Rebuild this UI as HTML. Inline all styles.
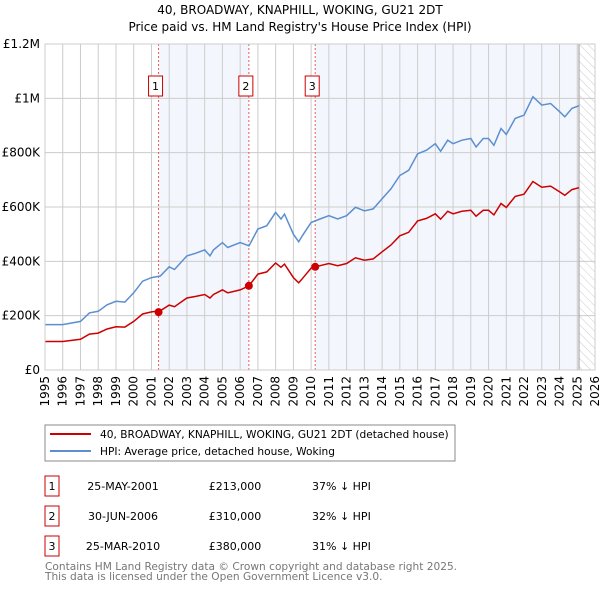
<!DOCTYPE html>
<html><head><meta charset="utf-8"><style>
body{margin:0;background:#fff;}
svg text{font-family:"DejaVu Sans","Liberation Sans",sans-serif;}
</style></head><body>
<svg id="c" width="600" height="590" xmlns="http://www.w3.org/2000/svg">
<text x="300" y="14" text-anchor="middle" font-size="12">40, BROADWAY, KNAPHILL, WOKING, GU21 2DT</text>
<text x="300" y="31" text-anchor="middle" font-size="12">Price paid vs. HM Land Registry's House Price Index (HPI)</text>
<defs><pattern id="hatch" width="6" height="6" patternUnits="userSpaceOnUse" patternTransform="rotate(-45)"><line x1="0" y1="0" x2="0" y2="6" stroke="#ccc" stroke-width="1"/></pattern></defs>
<g id="plot"></g>
<rect x="45" y="425" width="410" height="36" fill="#fff" stroke="#888"/>
<line x1="50" y1="434" x2="91" y2="434" stroke="#cc0000" stroke-width="2"/>
<text x="100" y="438" font-size="10.6">40, BROADWAY, KNAPHILL, WOKING, GU21 2DT (detached house)</text>
<line x1="50" y1="451" x2="91" y2="451" stroke="#5b8fd0" stroke-width="2"/>
<text x="100" y="455" font-size="10.6">HPI: Average price, detached house, Woking</text>
<g id="table" font-size="11"></g>
<text x="45" y="570" font-size="10.6" fill="#777">Contains HM Land Registry data © Crown copyright and database right 2025.</text>
<text x="45" y="580" font-size="10.6" fill="#777">This data is licensed under the Open Government Licence v3.0.</text>
</svg>
<script>
const hpiYears=[1995,1996,1997,1997.5,1998,1998.5,1999,1999.5,2000,2000.5,2001,2001.5,2002,2002.3,2003,2003.5,2004,2004.3,2004.5,2005,2005.3,2006,2006.5,2007,2007.5,2008,2008.3,2008.5,2009,2009.3,2009.5,2010,2010.5,2011,2011.5,2012,2012.5,2013,2013.5,2014,2014.5,2015,2015.5,2016,2016.5,2017,2017.3,2017.7,2018,2018.5,2019,2019.3,2019.7,2020,2020.3,2020.7,2021,2021.5,2022,2022.5,2023,2023.5,2024,2024.3,2024.7,2025.1];
const hpiValues=[167,167,179,210,216,240,253,250,284,327,340,346,380,370,420,430,442,420,442,469,451,469,457,519,531,580,556,574,500,472,494,543,556,568,556,568,599,586,593,630,667,716,735,796,809,833,805,846,833,846,852,821,852,852,827,889,867,926,938,1006,975,981,951,932,963,973];
const propValues=[105,105,113,132,136,151,159,158,179,206,214,218,239,233,265,271,278,265,278,295,284,295,310,353,361,394,378,390,340,321,336,375,384,392,384,392,413,404,409,435,460,494,507,549,558,575,555,584,575,584,588,566,588,588,571,613,598,639,647,694,673,677,656,643,664,671];
const saleYears=[2001.4,2006.49,2010.23];
const saleValues=[213,310,380];
const saleLabels=["1","2","3"];
const saleDates=["25-MAY-2001","30-JUN-2006","25-MAR-2010"];
const salePrices=["£213,000","£310,000","£380,000"];
const saleDiffs=["37% ↓ HPI","32% ↓ HPI","31% ↓ HPI"];
const yTicks=[0,200,400,600,800,1000,1200];
const yTickLabels=["£0","£200K","£400K","£600K","£800K","£1M","£1.2M"];
const xTicks=[1995,1996,1997,1998,1999,2000,2001,2002,2003,2004,2005,2006,2007,2008,2009,2010,2011,2012,2013,2014,2015,2016,2017,2018,2019,2020,2021,2022,2023,2024,2025,2026];
const dataEnd=2025.1;

const X0=45,X1=595,Y0=370,Y1=44;
const xs=v=>X0+(v-1995)/(2026-1995)*(X1-X0);
const ys=v=>Y0-v/1200*(Y0-Y1);
const NS="http://www.w3.org/2000/svg";
const g=document.getElementById('plot');
function mk(tag,attrs,parent){const e=document.createElementNS(NS,tag);for(const k in attrs)e.setAttribute(k,attrs[k]);(parent||g).appendChild(e);return e;}

let r=mk('rect',{x:xs(saleYears[0]),y:Y1,width:xs(saleYears[1])-xs(saleYears[0]),height:Y0-Y1,fill:'#eef3fc',opacity:0.7});


r=mk('rect',{x:xs(saleYears[2]),y:Y1,width:xs(dataEnd)-xs(saleYears[2]),height:Y0-Y1,fill:'#eef3fc',opacity:0.7});


r=mk('rect',{x:xs(dataEnd),y:Y1,width:X1-xs(dataEnd),height:Y0-Y1,fill:'url(#hatch)'});



yTicks.forEach((t,i)=>{
  const l=mk('line',{x1:X0,x2:X1,y1:ys(t),y2:ys(t),stroke:'#ccc'});
  
  
  const tx=mk('text',{x:40,y:ys(t)+4,'text-anchor':'end','font-size':12});
  tx.textContent=yTickLabels[i];
  
  
});
xTicks.forEach(t=>{
  const l=mk('line',{x1:xs(t),x2:xs(t),y1:Y1,y2:Y0,stroke:'#ccc'});
  
  
  const tx=mk('text',{x:0,y:0,'text-anchor':'end','font-size':12,transform:`translate(${xs(t)+4},376) rotate(-90)`});
  tx.textContent=t;
  
  
});
let l=mk('line',{x1:xs(dataEnd),x2:xs(dataEnd),y1:Y1,y2:Y0,stroke:'#999'});


saleYears.forEach((s,i)=>{
  const d=mk('line',{x1:xs(s),x2:xs(s),y1:Y1,y2:Y0,stroke:'#e06060','stroke-dasharray':'2,2'});
  
  
});
const pts=(vals)=>hpiYears.map((y,i)=>xs(y).toFixed(1)+','+ys(vals[i]).toFixed(1)).join(' ');
let p=mk('polyline',{points:pts(hpiValues),fill:'none',stroke:'#5b8fd0','stroke-width':1.5});


p=mk('polyline',{points:pts(propValues),fill:'none',stroke:'#cc0000','stroke-width':1.5});


mk('rect',{x:X0,y:Y1,width:X1-X0,height:Y0-Y1,fill:'none',stroke:'#ccc'});
saleYears.forEach((s,i)=>{
  const c=mk('circle',{cx:xs(s),cy:ys(saleValues[i]),r:4,fill:'#cc0000'});
  
  
  const b=mk('rect',{x:xs(s)-10,y:76,width:14,height:20,fill:'#fff',stroke:'#cc0000'});
  
  
  const t=mk('text',{x:xs(s)-3,y:90,'text-anchor':'middle','font-size':11});
  t.textContent=saleLabels[i];
  
  
});
const tb=document.getElementById('table');
saleYears.forEach((s,i)=>{
  const y=477+i*30;
  const b=mk('rect',{x:45,y:y-1,width:14,height:20,fill:'#fff',stroke:'#cc0000'},tb);
  
  
  const cols=[[52,saleLabels[i],'middle'],[123,saleDates[i],'middle'],[235,salePrices[i],'middle'],[312,saleDiffs[i],'start']];
  const names=['table-index','table-date','table-price','table-hpi-diff'];
  cols.forEach((c,j)=>{
    const t=mk('text',{x:c[0],y:y+13,'text-anchor':c[2]},tb);
    t.textContent=c[1];
    
    
  });
});
</script>
</body></html>
